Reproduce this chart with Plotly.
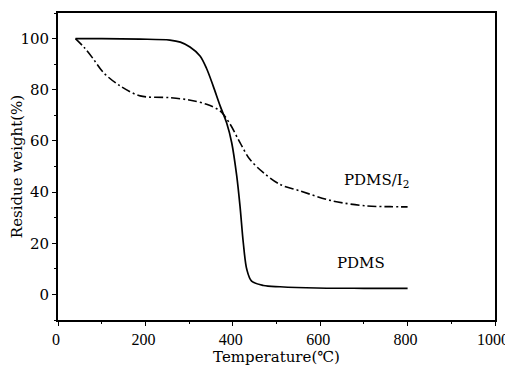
import plotly.graph_objects as go

# PDMS (solid)
pdms_T = [40, 100, 188, 256, 280, 302, 325, 340, 355, 371, 386, 397.5, 409, 416.5, 424, 432, 443, 470, 508, 592, 700, 800]
pdms_W = [100, 100, 99.8, 99.4, 98.6, 96.7, 93.2, 88.3, 81.5, 73.7, 67, 59.3, 46.3, 34.5, 20.2, 9.8, 5.2, 3.5, 3.0, 2.5, 2.4, 2.4]

# PDMS/I2 (dash-dot)
pdmsi_T = [40, 60, 81, 104, 142, 188, 256, 300, 340, 371, 394, 416.5, 439, 470, 508, 553, 629, 706, 760, 800]
pdmsi_W = [100, 96.5, 92, 86.7, 81.5, 77.6, 76.9, 76.0, 74.3, 71.7, 66.5, 59.3, 52.8, 47.6, 43, 40.5, 36.5, 34.6, 34.3, 34.2]

x_ticks = [0, 200, 400, 600, 800, 1000]
y_ticks = [0, 20, 40, 60, 80, 100]

FONT = "DejaVu Serif"
NUM_FONT = "Liberation Serif"

fig = go.Figure()
fig.add_trace(go.Scatter(x=pdms_T, y=pdms_W, mode="lines", name="PDMS",
                         line=dict(color="black", width=1.7, shape="spline", smoothing=0.9)))
fig.add_trace(go.Scatter(x=pdmsi_T, y=pdmsi_W, mode="lines", name="PDMS/I2",
                         line=dict(color="black", width=1.6, dash="9px,3px,2px,3px", shape="spline", smoothing=0.9)))

fig.add_annotation(x=728, y=44.5, text="PDMS/I<sub>2</sub>", showarrow=False,
                   font=dict(family=FONT, size=15, color="black"))
fig.add_annotation(x=693, y=12.3, text="PDMS", showarrow=False,
                   font=dict(family=FONT, size=15, color="black"))

axis_common = dict(showgrid=False, zeroline=False, showline=True, linecolor="black", linewidth=1.8,
                   mirror=True, ticks="outside", ticklen=4, tickwidth=1.2, tickcolor="black",
                   automargin=False, ticklabeloverflow="allow")

fig.update_xaxes(range=[0, 1000], tickvals=x_ticks, title=dict(text="Temperature(℃)", standoff=4,
                 font=dict(family=FONT, size=15, color="black")),
                 tickfont=dict(family=NUM_FONT, size=16, color="black"), ticklabelshift=-2,
                 minor=dict(ticks="outside", ticklen=2, dtick=100, tickcolor="black"), **axis_common)
fig.update_yaxes(range=[-10, 110], tickvals=y_ticks, title=dict(text="Residue weight(%)", standoff=2,
                 font=dict(family=FONT, size=15, color="black")),
                 tickfont=dict(family=FONT, size=15, color="black"),
                 minor=dict(ticks="outside", ticklen=2, dtick=10, tickcolor="black"), **axis_common)

# page body has an 8px margin, so the figure is sized/offset to compensate
fig.update_layout(width=505, height=362, margin=dict(l=50, r=18, t=5, b=50),
                  plot_bgcolor="white", paper_bgcolor="white", showlegend=False)

fig.write_html("out.html")
